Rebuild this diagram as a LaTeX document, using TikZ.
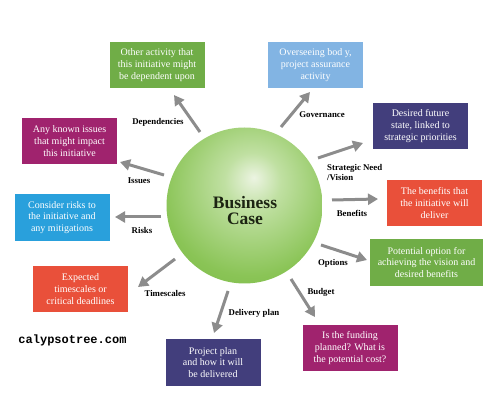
\documentclass[tikz,border=0pt]{standalone}
\usepackage{fontspec}
\setmainfont{Liberation Serif}
\newfontfamily\sitefont{Liberation Mono}
\usetikzlibrary{arrows.meta}

\definecolor{leafgreen}{RGB}{112,173,71}
\definecolor{skyblue}{RGB}{130,180,227}
\definecolor{inkblue}{RGB}{66,62,124}
\definecolor{plum}{RGB}{160,35,110}
\definecolor{oceanblue}{RGB}{41,160,220}
\definecolor{brick}{RGB}{233,80,58}
\definecolor{arrowgray}{RGB}{140,140,140}
\definecolor{glowcore}{RGB}{236,244,226}
\definecolor{glowmid}{RGB}{192,224,162}
\definecolor{casegreen}{RGB}{138,196,86}
\definecolor{caserim}{RGB}{102,172,52}
\definecolor{caseink}{RGB}{28,36,18}
\pgfdeclareradialshading{caseglow}{\pgfpoint{3bp}{9bp}}{color(0bp)=(glowcore); color(9bp)=(glowmid); color(28bp)=(casegreen); color(52bp)=(caserim); color(70bp)=(caserim)}

\begin{document}
\begin{tikzpicture}[x=1pt,y=-1pt,
    card/.style={fill=#1, text=white, minimum width=95pt, minimum height=46pt,
      inner sep=2pt, align=center, font=\fontsize{10}{11.7}\selectfont},
    tag/.style={font=\bfseries\fontsize{8.8}{10.5}\selectfont, inner sep=0pt},
    pointer/.style={draw=arrowgray, line width=3pt, -{Triangle[length=10pt,width=11pt]}}]
    \fill[white] (0,0) rectangle (500,411);
    \useasboundingbox (0,0) rectangle (500,411);

    % central ball
    \node[circle, minimum size=156pt, inner sep=0pt, shading=caseglow] (bc) at (244.5,205.5) {};
    \node[font=\bfseries\fontsize{17.5}{16}\selectfont, align=center, text=caseink] (bctext) at (245,210.5) {Business\\Case};

    % outer cards
    \node[card=leafgreen] (depcard) at (157,65) {Other activity that\\this initiative might\\be dependent upon};
    \node[card=skyblue] (govcard) at (315.5,65) {Overseeing bod y,\\project assurance\\activity};
    \node[card=inkblue] (stratcard) at (420.5,126) {Desired future\\state, linked to\\strategic priorities};
    \node[card=plum] (issuecard) at (69.5,141) {Any known issues\\that might impact\\this initiative};
    \node[card=oceanblue, minimum height=47pt] (riskcard) at (62,217.5) {Consider risks to\\the initiative and\\any mitigations};
    \node[card=brick] (timecard) at (80.5,289) {Expected\\timescales or\\critical deadlines};
    \node[card=brick] (benefitcard) at (434.5,203) {The benefits that\\the initiative will\\deliver};
    \node[card=leafgreen, minimum width=113pt, minimum height=47pt] (optioncard) at (426.5,262.5) {Potential option for\\achieving the vision and\\desired benefits};
    \node[card=inkblue, minimum height=47pt] (delivcard) at (213,362.5) {Project plan\\and how it will\\be delivered};
    \node[card=plum] (budgetcard) at (350,348) {Is the funding\\planned? What is\\the potential cost?};

    % arrows out of the ball
    \foreach \n/\tx/\ty/\hx/\hy in {dep/200/132/174/95, gov/281/127/310/92,
        strat/318/158/363/143, benefit/332/200/378/199, option/321/245/367/260,
        budget/291/279/315/317, deliv/228/291/214/333, time/175/259/138/287,
        risk/161/217/115/217, issue/164/175/120/162}{
      \coordinate (\n-tail) at (\tx,\ty);
      \coordinate (\n-head) at (\hx,\hy);
      \draw[pointer] (\n-tail) -- (\n-head);
    }

    % arrow labels
    \node[tag] (deptag) at (158,122) {Dependencies};
    \node[tag] (govtag) at (322,115) {Governance};
    \node[tag, anchor=west, align=left] (strattag) at (327,172.5) {Strategic Need\\/Vision};
    \node[tag] (benefittag) at (352,213) {Benefits};
    \node[tag] (optiontag) at (333,263) {Options};
    \node[tag] (budgettag) at (321,292) {Budget};
    \node[tag] (delivtag) at (254,313) {Delivery plan};
    \node[tag] (timetag) at (165,293) {Timescales};
    \node[tag] (risktag) at (142,230) {Risks};
    \node[tag] (issuetag) at (139,181) {Issues};

    \node[font=\sitefont\bfseries\fontsize{12}{14}\selectfont, inner sep=0pt] (site) at (72.5,340) {calypsotree.com};
\end{tikzpicture}
\end{document}
